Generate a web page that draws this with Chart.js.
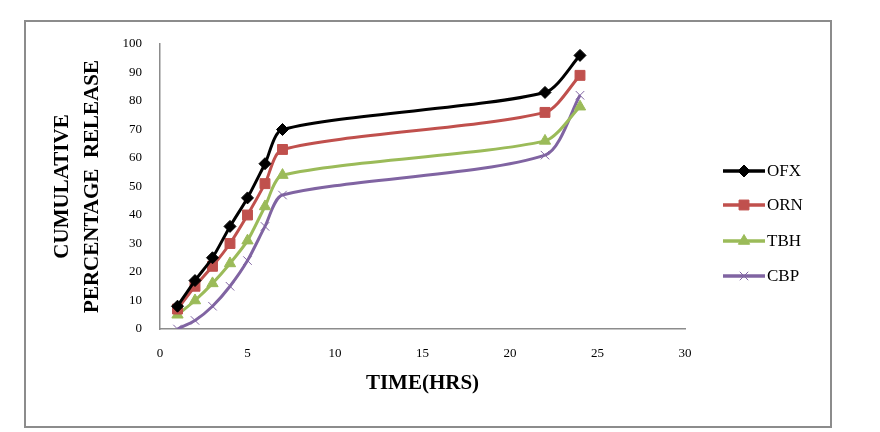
<!DOCTYPE html>
<html>
<head>
<meta charset="utf-8">
<script src="https://cdn.jsdelivr.net/npm/chart.js@4"></script>
<style>
  html, body { margin: 0; padding: 0; background: #fff; }
  #wrap { position: relative; width: 880px; height: 432px; }
  #frame { position: absolute; left: 24px; top: 20px; width: 804px; height: 404px; border: 2px solid #8c8c8c; }
  canvas { position: absolute; left: 0; top: 0; }
</style>
</head>
<body>
<div id="wrap">
  <div id="frame"></div>
  <canvas id="grafico" width="880" height="432"></canvas>
</div>
<script>
const horas = [1, 2, 3, 4, 5, 6, 7, 22, 24];
const ofx = [8, 17, 25, 36, 46, 58, 70, 83, 96];
const orn = [7, 15, 22, 30, 40, 51, 63, 76, 89];
const tbh = [5, 10, 16, 23, 31, 43, 54, 66, 78];
const cbp = [0, 3, 8, 15, 24, 36, 47, 61, 82];

const SERIF = "'Liberation Serif', 'DejaVu Serif', serif";

function pontos(valores) {
  return horas.map((h, i) => ({ x: h, y: valores[i] }));
}

const series = [
  { label: "OFX", data: ofx, color: "#000000", style: "rectRot", radius: 6 },
  { label: "ORN", data: orn, color: "#C0504D", style: "rect", radius: 7 },
  { label: "TBH", data: tbh, color: "#9BBB59", style: "triangle", radius: 6.5 },
  { label: "CBP", data: cbp, color: "#8064A2", style: "crossRot", radius: 6 }
];

// legenda desenhada à mão: linha + marcador, igual ao Excel
const legendaPlugin = {
  id: "legendaLinha",
  afterDraw(chart) {
    const ctx = chart.ctx;
    const x0 = 723, x1 = 765;
    const linhas = [171, 205, 241, 276];
    chart.data.datasets.forEach((ds, i) => {
      const y = linhas[i];
      ctx.save();
      ctx.strokeStyle = ds.borderColor;
      ctx.lineWidth = 3.5;
      ctx.beginPath();
      ctx.moveTo(x0, y);
      ctx.lineTo(x1, y);
      ctx.stroke();
      ctx.fillStyle = ds.pointBackgroundColor;
      ctx.strokeStyle = ds.pointBorderColor;
      ctx.lineWidth = 1;
      Chart.helpers.drawPoint(ctx, {
        pointStyle: ds.pointStyle,
        radius: ds.pointRadius,
        rotation: 0,
        borderWidth: 1
      }, (x0 + x1) / 2, y);
      ctx.fillStyle = "#000";
      ctx.font = "17px " + SERIF;
      ctx.textBaseline = "middle";
      ctx.textAlign = "left";
      ctx.fillText(ds.label, x1 + 2, y + 1);
      ctx.restore();
    });
  }
};

const ctx = document.getElementById("grafico").getContext("2d");

new Chart(ctx, {
  type: "line",
  data: {
    datasets: series.map(s => ({
      label: s.label,
      data: pontos(s.data),
      borderColor: s.color,
      backgroundColor: s.color,
      borderWidth: 3,
      tension: 0.25,
      pointStyle: s.style,
      pointRadius: s.radius,
      pointBackgroundColor: s.color,
      pointBorderColor: s.color,
      pointBorderWidth: 1
    }))
  },
  options: {
    responsive: false,
    animation: false,
    layout: { padding: { left: 25, top: 44, right: 195, bottom: 23 } },
    plugins: {
      legend: { display: false },
      tooltip: { enabled: false }
    },
    scales: {
      x: {
        type: "linear",
        min: 0,
        max: 30,
        ticks: { stepSize: 5, padding: 17, color: "#000", font: { family: SERIF, size: 13 } },
        grid: { display: false, drawTicks: false },
        border: { display: true, color: "#8c8c8c", width: 1.5 },
        title: {
          display: true,
          text: "TIME(HRS)",
          color: "#000",
          padding: { top: 0, bottom: 13 },
          font: { family: SERIF, size: 21, weight: "bold", lineHeight: 1.2 }
        },
        afterFit: scale => { scale.height = 80; }
      },
      y: {
        min: 0,
        max: 100,
        ticks: { stepSize: 10, padding: 18, color: "#000", font: { family: SERIF, size: 13 } },
        grid: { display: false, drawTicks: false },
        border: { display: true, color: "#8c8c8c", width: 1.5 },
        title: {
          display: true,
          text: ["CUMULATIVE", "PERCENTAGE  RELEASE"],
          color: "#000",
          padding: { top: 22, bottom: 0 },
          font: { family: SERIF, size: 21, weight: "bold", lineHeight: 1.45 }
        },
        afterFit: scale => { scale.width = 135; }
      }
    }
  },
  plugins: [legendaPlugin]
});
</script>
</body>
</html>
